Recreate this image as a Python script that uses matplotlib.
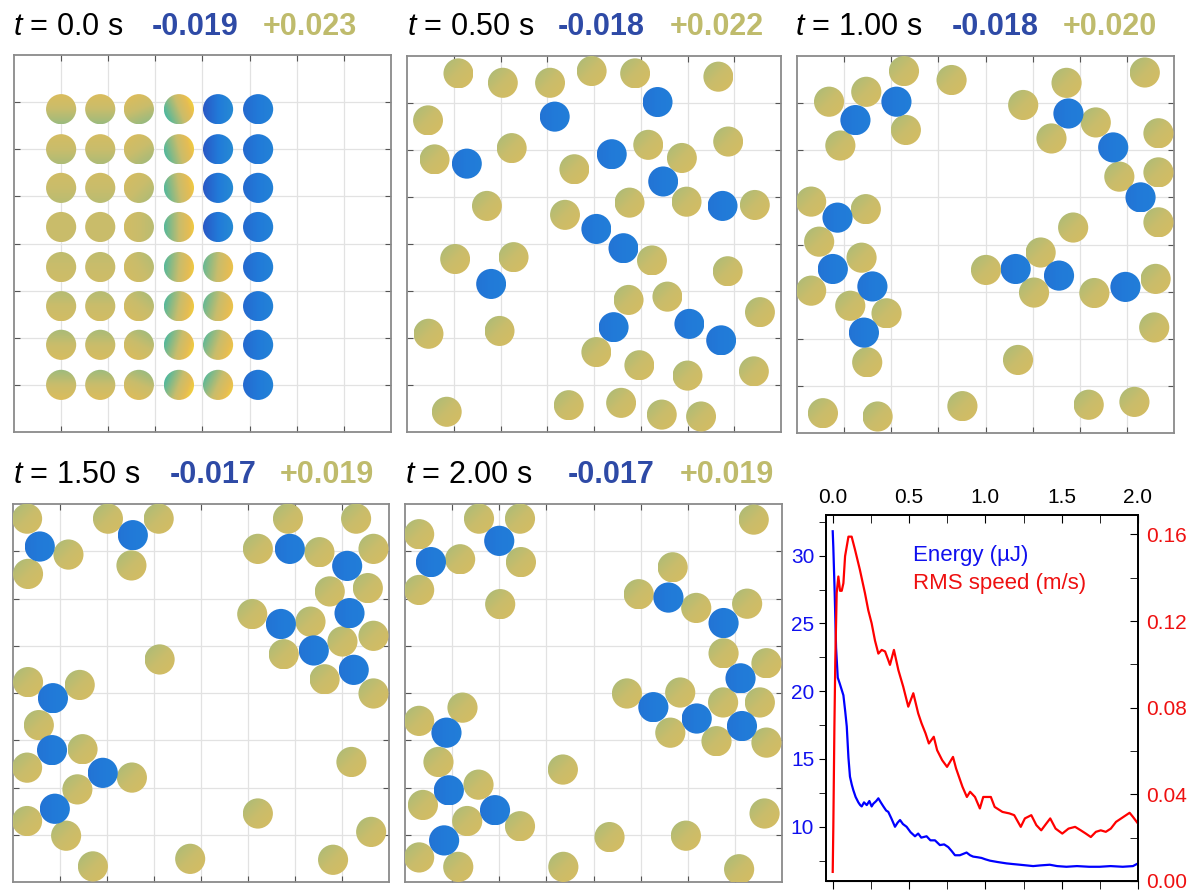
import numpy as np
import matplotlib.pyplot as plt
from matplotlib.colors import LinearSegmentedColormap
from matplotlib.patches import Circle
from matplotlib.ticker import MultipleLocator

plt.rcParams['font.family'] = ['Liberation Sans', 'DejaVu Sans']
plt.rcParams['mathtext.fontset'] = 'custom'
plt.rcParams['mathtext.it'] = 'Liberation Sans:italic'
plt.rcParams['mathtext.rm'] = 'Liberation Sans'

W, H = 1200, 892

# ---- panel titles ----
times = ['0.0', '0.50', '1.00', '1.50', '2.00']
q_neg = ['-0.019', '-0.018', '-0.018', '-0.017', '-0.017']
q_pos = ['+0.023', '+0.022', '+0.020', '+0.019', '+0.019']

# ---- t = 0: square lattice (box units 0..8) ----
lattice_x = [1.0, 1.83, 2.65, 3.50, 4.33, 5.18]
lattice_y = [6.85, 6.0, 5.18, 4.35, 3.5, 2.67, 1.85, 1.0]
lattice_sign = [[1, 1, 1, 1, -1, -1]] * 4 + [[1, 1, 1, 1, 1, -1]] * 4

# ---- later snapshots: disk centres (box units) ----
pos_050 = [(1.10, 7.63), (2.05, 7.43), (3.06, 7.43), (3.95, 7.68), (4.88, 7.63), (6.66, 7.56),
           (0.45, 6.63), (2.24, 6.04), (0.59, 5.80), (3.58, 5.59), (5.16, 6.11), (5.88, 5.83),
           (6.87, 6.18), (1.71, 4.81), (3.38, 4.62), (4.76, 4.88), (5.98, 4.90), (7.44, 4.83),
           (1.03, 3.68), (2.28, 3.72), (5.24, 3.65), (6.86, 3.42), (4.74, 2.81), (5.57, 2.88),
           (7.55, 2.55), (0.46, 2.09), (1.98, 2.15), (4.05, 1.70), (4.97, 1.42), (6.00, 1.20),
           (7.42, 1.29), (0.85, 0.43), (3.46, 0.57), (4.58, 0.62), (5.45, 0.37), (6.29, 0.33)]
neg_050 = [(3.16, 6.71), (5.36, 7.02), (1.28, 5.71), (4.38, 5.91), (5.48, 5.33), (6.75, 4.81),
           (4.05, 4.32), (4.63, 3.91), (1.80, 3.15), (4.42, 2.23), (6.04, 2.30), (6.72, 1.95)]

pos_100 = [(2.27, 7.68), (3.28, 7.49), (1.47, 7.24), (0.68, 7.03), (2.31, 6.43), (0.92, 6.10),
           (4.80, 6.96), (5.72, 7.43), (7.38, 7.65), (6.34, 6.59), (5.40, 6.25), (7.67, 6.36),
           (6.84, 5.44), (7.67, 5.53), (7.67, 4.47), (0.30, 4.91), (1.46, 4.75), (0.47, 4.06),
           (1.37, 3.72), (0.30, 3.02), (1.13, 2.70), (1.90, 2.54), (1.49, 1.50), (0.55, 0.42),
           (1.71, 0.35), (3.51, 0.57), (4.01, 3.46), (5.17, 3.83), (5.03, 2.98), (5.86, 4.36),
           (6.31, 2.97), (7.61, 3.27), (7.58, 2.24), (4.69, 1.55), (6.19, 0.60), (7.16, 0.66)]
neg_100 = [(2.11, 7.03), (1.24, 6.64), (0.86, 4.57), (0.76, 3.48), (1.60, 3.11), (1.42, 2.13),
           (5.76, 6.78), (6.71, 6.06), (7.29, 5.00), (4.64, 3.48), (5.56, 3.34), (6.97, 3.10)]

pos_150 = [(0.30, 7.69), (2.02, 7.69), (3.10, 7.69), (1.18, 6.93), (0.32, 6.52), (2.52, 6.70),
           (5.85, 7.69), (7.30, 7.69), (5.21, 7.05), (6.52, 6.98), (7.67, 7.05), (6.74, 6.15),
           (7.55, 6.22), (5.09, 5.67), (6.33, 5.51), (7.67, 5.21), (7.01, 5.09), (5.76, 4.82),
           (6.63, 4.29), (7.67, 3.99), (3.12, 4.71), (0.32, 4.23), (1.42, 4.17), (0.55, 3.32),
           (1.48, 2.81), (0.30, 2.42), (2.53, 2.21), (1.37, 1.96), (0.30, 1.29), (1.13, 0.98),
           (1.70, 0.33), (3.77, 0.49), (5.21, 1.45), (7.20, 2.54), (7.62, 1.06), (6.81, 0.47)]
neg_150 = [(0.57, 7.10), (2.55, 7.34), (5.89, 7.05), (7.11, 6.69), (7.16, 5.69), (5.70, 5.46),
           (6.40, 4.90), (7.25, 4.49), (0.85, 3.89), (0.83, 2.79), (1.91, 2.31), (0.89, 1.55)]

pos_200 = [(1.57, 7.69), (2.44, 7.69), (7.40, 7.67), (0.30, 7.36), (1.17, 6.83), (2.46, 6.77),
           (0.30, 6.18), (2.02, 5.88), (5.68, 6.66), (4.96, 6.09), (6.18, 5.80), (7.26, 5.89),
           (6.76, 4.84), (7.67, 4.63), (4.71, 3.99), (5.84, 4.01), (6.75, 3.80), (7.53, 3.80),
           (5.63, 3.16), (6.61, 2.98), (7.67, 2.95), (0.30, 3.41), (1.22, 3.69), (0.71, 2.54),
           (1.56, 2.06), (0.38, 1.63), (1.32, 1.29), (2.44, 1.18), (0.30, 0.52), (1.13, 0.32),
           (3.35, 2.38), (4.34, 0.95), (3.36, 0.32), (5.96, 0.98), (7.63, 1.45), (7.09, 0.27)]
neg_200 = [(2.00, 7.22), (0.55, 6.77), (5.59, 6.02), (6.76, 5.48), (7.12, 4.31), (5.27, 3.70),
           (6.19, 3.46), (7.15, 3.30), (0.88, 3.16), (0.93, 1.94), (1.91, 1.52), (0.83, 0.88)]

# ---- energy / rms speed traces ----
t_energy = [0.000, 0.004, 0.013, 0.022, 0.033, 0.045, 0.059, 0.070, 0.082, 0.092, 0.103, 0.113,
            0.125, 0.135, 0.150, 0.168, 0.180, 0.190, 0.205, 0.223, 0.240, 0.255, 0.266, 0.285,
            0.299, 0.315, 0.332, 0.350, 0.364, 0.385, 0.408, 0.425, 0.441, 0.460, 0.484, 0.510,
            0.539, 0.560, 0.580, 0.615, 0.640, 0.670, 0.702, 0.730, 0.757, 0.780, 0.801, 0.833,
            0.855, 0.877, 0.900, 0.920, 0.950, 0.975, 1.000, 1.030, 1.080, 1.138, 1.180, 1.226,
            1.270, 1.313, 1.360, 1.422, 1.470, 1.531, 1.600, 1.680, 1.749, 1.820, 1.900, 1.967, 2.000]
energy = [31.8, 30.6, 27.2, 23.2, 21.0, 20.6, 20.1, 19.7, 18.5, 17.4, 15.1, 13.7,
          13.1, 12.7, 12.2, 11.8, 11.6, 11.5, 11.8, 11.6, 11.9, 11.5, 11.7, 11.9,
          12.1, 11.8, 11.5, 11.2, 11.1, 10.6, 10.0, 10.3, 10.5, 10.2, 10.0, 9.6,
          9.3, 9.5, 9.2, 9.3, 9.0, 9.0, 8.65, 8.7, 8.5, 8.2, 7.9, 7.9,
          8.0, 8.1, 7.9, 7.8, 7.75, 7.7, 7.6, 7.5, 7.4, 7.3, 7.25, 7.2,
          7.15, 7.1, 7.15, 7.2, 7.1, 7.05, 7.1, 7.05, 7.05, 7.1, 7.05, 7.1, 7.3]

t_speed = [0.000, 0.004, 0.011, 0.017, 0.026, 0.037, 0.048, 0.059, 0.070, 0.081, 0.103, 0.124,
           0.146, 0.178, 0.211, 0.233, 0.255, 0.277, 0.299, 0.321, 0.343, 0.364, 0.375, 0.401,
           0.430, 0.462, 0.495, 0.528, 0.560, 0.582, 0.608, 0.630, 0.662, 0.684, 0.717, 0.749,
           0.788, 0.808, 0.850, 0.879, 0.900, 0.932, 0.964, 0.986, 1.036, 1.061, 1.112, 1.158,
           1.189, 1.232, 1.259, 1.301, 1.334, 1.366, 1.399, 1.425, 1.460, 1.504, 1.545, 1.588,
           1.625, 1.658, 1.691, 1.724, 1.756, 1.789, 1.822, 1.856, 1.945, 1.967, 2.000]
speed = [0.0042, 0.025, 0.071, 0.102, 0.133, 0.1406, 0.134, 0.134, 0.1375, 0.150, 0.159, 0.159,
         0.153, 0.1437, 0.133, 0.125, 0.119, 0.111, 0.105, 0.1067, 0.106, 0.102, 0.0998, 0.1067,
         0.0974, 0.0897, 0.0805, 0.0867, 0.0774, 0.0728, 0.0682, 0.0635, 0.0666, 0.0604, 0.0558, 0.0527,
         0.0573, 0.052, 0.0435, 0.0388, 0.0412, 0.0388, 0.0335, 0.0388, 0.0388, 0.0342, 0.0319, 0.0312,
         0.0304, 0.025, 0.0289, 0.0304, 0.0258, 0.0234, 0.0265, 0.0289, 0.0242, 0.0219, 0.0242, 0.025,
         0.0234, 0.0219, 0.0203, 0.0227, 0.0234, 0.0227, 0.0242, 0.0273, 0.0315, 0.0296, 0.0265]

# colour map for the surface-charge shading (blue = negative, gold = positive)
cmap = LinearSegmentedColormap.from_list('charge', [
    (0.00, (0.20, 0.22, 0.70)),
    (0.20, (0.13, 0.48, 0.85)),
    (0.35, (0.16, 0.58, 0.82)),
    (0.50, (0.30, 0.72, 0.62)),
    (0.72, (0.79, 0.74, 0.42)),
    (0.85, (0.90, 0.74, 0.33)),
    (1.00, (0.99, 0.88, 0.15))])
NEG, POS, R = 0.2, 0.72, 0.32


def add_axes_px(fig, l, t, r, b):
    return fig.add_axes([l / W, 1 - b / H, (r - l) / W, (b - t) / H])


def draw_disk(ax, x, y, base, tx=0.0, ty=0.0):
    g = np.linspace(-1, 1, 40)
    gx, gy = np.meshgrid(g, g)
    im = ax.imshow(base + tx * gx + ty * gy, extent=[x - R, x + R, y - R, y + R], origin='lower',
                   cmap=cmap, vmin=0, vmax=1, interpolation='bilinear', zorder=3)
    im.set_clip_path(Circle((x, y), R, transform=ax.transData))


def style_box(ax):
    ax.set_xlim(0, 8)
    ax.set_ylim(0, 8)
    ax.set_aspect('auto')
    ax.set_xticks(range(1, 8))
    ax.set_yticks(range(1, 8))
    ax.set_xticklabels([])
    ax.set_yticklabels([])
    ax.grid(True, color='#e2e2e2', lw=0.9)
    ax.set_axisbelow(True)
    ax.tick_params(direction='in', length=4, color='#555555', top=True, right=True)
    for s in ax.spines.values():
        s.set_color('#8a8a8a')
        s.set_linewidth(1.3)


def title(fig, x, y, t, qn, qp):
    fs = 22
    fig.text(x[0] / W, 1 - y / H, '$t$ = %s s' % t, fontsize=fs, va='baseline', ha='left')
    fig.text(x[1] / W, 1 - y / H, qn, fontsize=fs, fontweight='bold', color='#2e4aa6', va='baseline')
    fig.text(x[2] / W, 1 - y / H, qp, fontsize=fs, fontweight='bold', color='#bfbb6c', va='baseline')


fig = plt.figure(figsize=(12, 8.92), dpi=100)

boxes = [(14, 55, 391, 432), (407, 56, 781, 432), (797, 56, 1174, 433),
         (13, 504, 389, 882), (405, 504, 782, 882)]
title_x = [(13, 152, 263), (407, 558, 670), (795, 952, 1063), (13, 170, 280), (405, 568, 680)]
title_y = [35, 35, 35, 483, 483]

# panel 1 shading tilt (style)
col_tilt = [0.0, 0.0, -0.03, 0.2, 0.17, 0.06]
row_tilt = [0.08, 0.05, 0.03, 0.0, -0.02, -0.04, -0.06, -0.08]

ax = add_axes_px(fig, *boxes[0])
for j, y in enumerate(lattice_y):
    for i, x in enumerate(lattice_x):
        if lattice_sign[j][i] < 0:
            draw_disk(ax, x, y, NEG, tx=0.1 if i == 4 else col_tilt[i] * 0.8)
        else:
            draw_disk(ax, x, y, POS, tx=col_tilt[i], ty=row_tilt[j])
style_box(ax)

snapshots = [(pos_050, neg_050), (pos_100, neg_100), (pos_150, neg_150), (pos_200, neg_200)]
for k, (pos, neg) in enumerate(snapshots):
    ax = add_axes_px(fig, *boxes[k + 1])
    for x, y in pos:
        draw_disk(ax, x, y, POS, tx=0.03, ty=-0.03)
    for x, y in neg:
        draw_disk(ax, x, y, NEG, tx=0.02)
    style_box(ax)

for k in range(5):
    title(fig, title_x[k], title_y[k], times[k], q_neg[k], q_pos[k])

# ---- energy / speed panel ----
ax6 = add_axes_px(fig, 826, 515, 1138, 881)
ax6.plot(t_energy, energy, color='#0000ff', lw=1.6, zorder=3)
ax6.set_xlim(-0.044, 2.0)
ax6.set_ylim(6, 33)
ax6.xaxis.tick_top()
ax6.set_xticks([0, 0.5, 1.0, 1.5, 2.0])
ax6.set_xticklabels(['0.0', '0.5', '1.0', '1.5', '2.0'])
ax6.xaxis.set_minor_locator(MultipleLocator(0.25))
ax6.tick_params(axis='x', which='both', direction='in', labelsize=15, pad=6)
ax6.tick_params(axis='x', which='major', length=6)
ax6.tick_params(axis='x', which='minor', length=6)
ax6.set_yticks([10, 15, 20, 25, 30])
ax6.yaxis.set_minor_locator(MultipleLocator(2.5))
ax6.tick_params(axis='y', which='both', direction='out', labelsize=15, labelcolor='#1010ee', length=5)
for s in ax6.spines.values():
    s.set_linewidth(1.3)

sec = ax6.secondary_xaxis('bottom')
sec.set_xticks([0, 0.5, 1.0, 1.5, 2.0])
sec.xaxis.set_minor_locator(MultipleLocator(0.25))
sec.tick_params(axis='x', which='both', direction='out', length=6, labelbottom=False)

ax7 = ax6.twinx()
ax7.plot(t_speed, speed, color='#ff0000', lw=1.6)
ax7.set_ylim(0, 0.169)
ax7.set_yticks([0.0, 0.04, 0.08, 0.12, 0.16])
ax7.set_yticklabels(['0.00', '0.04', '0.08', '0.12', '0.16'])
ax7.yaxis.set_minor_locator(MultipleLocator(0.02))
ax7.tick_params(axis='y', which='both', direction='in', labelsize=15, labelcolor='#ee1010', length=6, pad=6)
for s in ax7.spines.values():
    s.set_linewidth(1.3)

fig.text(913 / W, 1 - 555 / H, 'Energy (µJ)', color='#1010ee', fontsize=16, va='center')
fig.text(913 / W, 1 - 583 / H, 'RMS speed (m/s)', color='#ee1010', fontsize=16, va='center')

fig.savefig('out.png', dpi=100)
